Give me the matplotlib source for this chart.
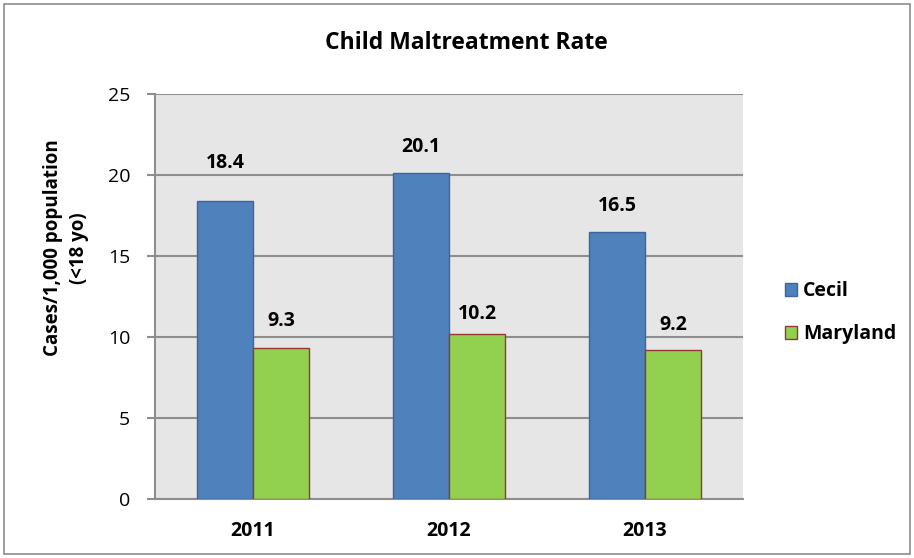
import numpy as np
import matplotlib.pyplot as plt
from matplotlib.patches import Rectangle

# data
YEARS = ["2011", "2012", "2013"]
CECIL = [18.4, 20.1, 16.5]
MARYLAND = [9.3, 10.2, 9.2]
SERIES = ["Cecil", "Maryland"]

# label nudges above each bar (pixels), as placed in the original
CECIL_NUDGE = [38, 26, 26]
MARYLAND_NUDGE = [27, 20, 25]

plt.rcParams['font.family'] = ['Open Sans', 'DejaVu Sans']

fig = plt.figure(figsize=(9.14, 5.58), dpi=100)
ax = fig.add_axes([155 / 914, 1 - 499 / 558, 588 / 914, 405 / 558])

x = np.arange(len(YEARS))
w = 0.286
b1 = ax.bar(x - w / 2, CECIL, w, color="#4F81BD", edgecolor="#3A679C", linewidth=1, label=SERIES[0], zorder=3)
b2 = ax.bar(x + w / 2, MARYLAND, w, color="#92D050", edgecolor="#953735", linewidth=1, label=SERIES[1], zorder=3)

# value labels above the bars
for bars, vals, nudges in [(b1, CECIL, CECIL_NUDGE), (b2, MARYLAND, MARYLAND_NUDGE)]:
    for rect, v, n in zip(bars, vals, nudges):
        ax.annotate(f"{v:.1f}", (rect.get_x() + rect.get_width() / 2, v),
                    xytext=(0, n * 0.72), textcoords="offset points",
                    ha="center", va="center", fontsize=14, fontweight="bold", color="black")

ax.set_xlim(-0.5, 2.5)
ax.set_ylim(0, 25)
ax.set_yticks(range(0, 26, 5))
ax.set_facecolor("#E6E6E6")
ax.grid(axis="y", color="#8E8E8E", linewidth=1.5, zorder=1)
ax.set_axisbelow(True)
ax.set_xticks(x)
ax.set_xticklabels(YEARS, fontsize=14, fontweight="bold")
ax.tick_params(axis="x", length=0, pad=16)
ax.tick_params(axis="y", length=5.8, width=1.5, color="#8E8E8E", labelsize=14, pad=12)
for s in ["top", "right"]:
    ax.spines[s].set_visible(False)
for s in ["left", "bottom"]:
    ax.spines[s].set_color("#8E8E8E")
    ax.spines[s].set_linewidth(1.5)

fig.text(466 / 914, 1 - 43 / 558, "Child Maltreatment Rate", ha="center", va="center",
         fontsize=16.5, fontweight="bold")
fig.text(66 / 914, 1 - 248 / 558, "Cases/1,000 population\n(<18 yo)", ha="center", va="center",
         rotation=90, fontsize=13.5, fontweight="bold", linespacing=1.4)

ax.legend(loc="center left", bbox_to_anchor=(1.041, 0.46), frameon=False,
          prop={"weight": "bold", "size": 14}, handlelength=0.65, handleheight=0.65,
          handletextpad=0.3, labelspacing=1.2)

fig.add_artist(Rectangle((4 / 914, 4 / 558), 906 / 914, 550 / 558, transform=fig.transFigure,
                         fill=False, edgecolor="#8C8C8C", linewidth=1.2))

fig.savefig("out.png", dpi=100)
